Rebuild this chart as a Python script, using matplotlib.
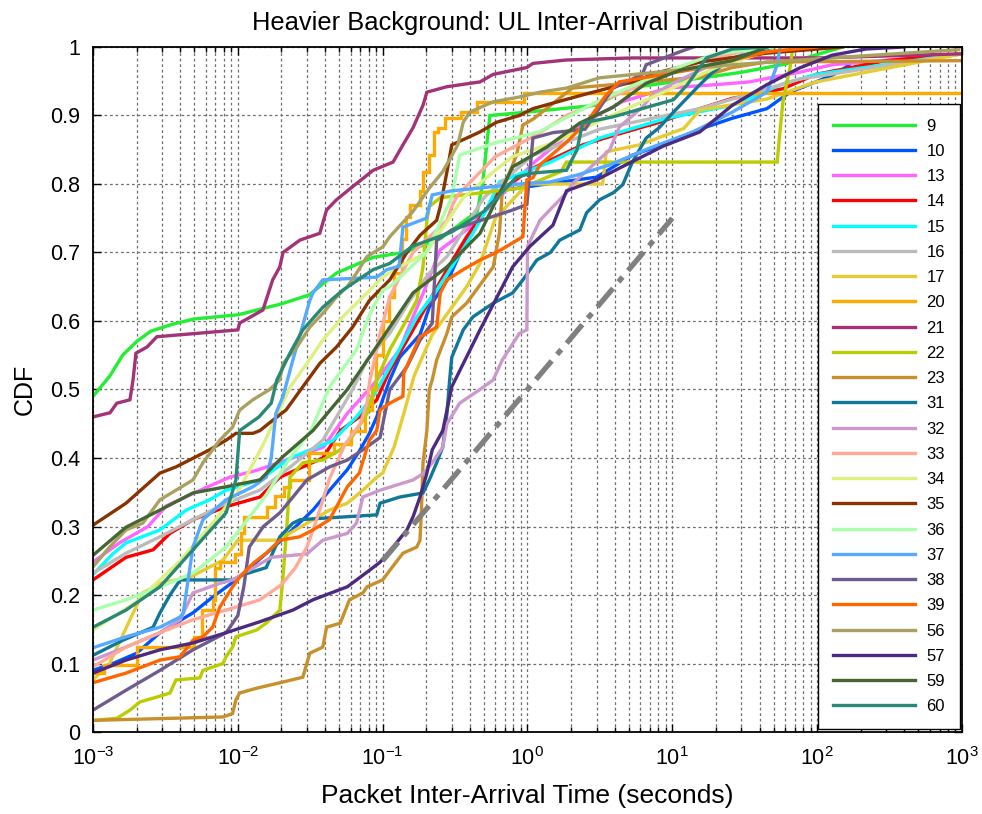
import matplotlib
matplotlib.use("Agg")
import matplotlib.pyplot as plt
from matplotlib.ticker import LogLocator, NullFormatter

plt.rcParams['font.family'] = ['Liberation Sans', 'DejaVu Sans']
plt.rcParams['mathtext.fontset'] = 'custom'
plt.rcParams['mathtext.rm'] = 'Liberation Sans'
plt.rcParams['mathtext.it'] = 'Liberation Sans:italic'
plt.rcParams['mathtext.bf'] = 'Liberation Sans:bold'

# ---- empirical CDFs of packet inter-arrival times (seconds), one per device ----
t_09 = [1e-3, 1.31e-3, 1.6e-3, 2e-3, 2.5e-3, 3.5e-3, 5e-3, 1e-2, 2e-2, 3.1e-2, 4.8e-2, 8.6e-2, 0.14, 0.25, 0.45, 0.49, 0.55, 1, 3, 5, 30, 60, 150]
p_09 = [0.49, 0.52, 0.55, 0.57, 0.585, 0.595, 0.603, 0.609, 0.625, 0.638, 0.67, 0.693, 0.70, 0.72, 0.76, 0.80, 0.90, 0.905, 0.915, 0.94, 0.963, 0.975, 1.0]

t_10 = [1e-3, 1.37e-3, 2e-3, 2.9e-3, 4.9e-3, 6.7e-3, 9.7e-3, 2e-2, 3.3e-2, 4.3e-2, 5.7e-2, 6.9e-2, 8.1e-2, 9.1e-2, 0.1, 0.112, 0.131, 0.181, 0.21, 0.29, 0.38, 0.47, 0.64, 1.36, 3, 5.3, 9.2, 15.5, 26, 45, 65, 98, 141, 166]
p_10 = [0.09, 0.10, 0.115, 0.145, 0.174, 0.197, 0.222, 0.28, 0.324, 0.353, 0.383, 0.41, 0.436, 0.46, 0.485, 0.514, 0.547, 0.58, 0.62, 0.665, 0.72, 0.75, 0.79, 0.80, 0.81, 0.842, 0.86, 0.88, 0.896, 0.91, 0.934, 0.949, 0.963, 0.974]

t_13 = [1e-3, 1.52e-3, 2.4e-3, 3.2e-3, 5.5e-3, 8.8e-3, 1.35e-2, 3.9e-2, 5.7e-2, 8.6e-2, 0.131, 0.162, 0.19, 0.25, 0.33, 0.40, 1.09, 2.3, 4.5, 9.2, 20, 34, 75, 127, 1000]
p_13 = [0.248, 0.276, 0.30, 0.33, 0.353, 0.372, 0.382, 0.416, 0.465, 0.507, 0.558, 0.606, 0.64, 0.704, 0.723, 0.737, 0.83, 0.886, 0.92, 0.94, 0.945, 0.949, 0.963, 0.974, 0.99]

t_14 = [1e-3, 1.69e-3, 2.6e-3, 3.4e-3, 4.9e-3, 8.3e-3, 1.42e-2, 1.95e-2, 3.86e-2, 5.1e-2, 6.9e-2, 9.1e-2, 0.112, 0.162, 0.278, 0.38, 0.64, 1.09, 2.4, 4.1, 8.1, 15.5, 26, 58, 98, 300, 1000]
p_14 = [0.222, 0.255, 0.266, 0.29, 0.31, 0.329, 0.343, 0.372, 0.40, 0.44, 0.46, 0.485, 0.528, 0.587, 0.675, 0.723, 0.79, 0.823, 0.857, 0.872, 0.89, 0.91, 0.925, 0.939, 0.96, 0.98, 0.99]

t_15 = [1e-3, 1.37e-3, 1.69e-3, 2.9e-3, 4.4e-3, 6.4e-3, 8.3e-3, 1.42e-2, 2.3e-2, 4.5e-2, 6.6e-2, 8.6e-2, 0.112, 0.138, 0.172, 0.236, 0.30, 0.42, 0.52, 0.64, 1.44, 3.15, 9.2, 26, 58, 98, 1000]
p_15 = [0.23, 0.26, 0.276, 0.295, 0.324, 0.339, 0.353, 0.368, 0.40, 0.425, 0.46, 0.49, 0.533, 0.568, 0.606, 0.645, 0.679, 0.728, 0.762, 0.803, 0.832, 0.867, 0.896, 0.915, 0.946, 0.96, 0.99]

t_16 = [1e-3, 1.69e-3, 2.9e-3, 4.9e-3, 8.3e-3, 1.42e-2, 2.4e-2, 3.86e-2, 6.2e-2, 7.8e-2, 0.112, 0.154, 0.21, 0.278, 0.5, 1.09, 3.15, 15.5, 26, 75, 1000]
p_16 = [0.232, 0.261, 0.285, 0.31, 0.334, 0.353, 0.39, 0.426, 0.50, 0.543, 0.582, 0.63, 0.67, 0.694, 0.78, 0.842, 0.88, 0.91, 0.924, 0.953, 0.99]

t_17 = [1e-3, 1.3e-3, 1.8e-3, 2.2e-3, 3e-3, 4.67e-3, 7.9e-3, 1e-2, 1.9e-2, 2.5e-2, 4.3e-2, 5.7e-2, 7.3e-2, 9.1e-2, 0.10, 0.12, 0.14, 0.165, 0.22, 0.38, 0.47, 0.6, 1.0, 3.3, 3.5, 5.9, 12, 15.5, 45, 98, 1000]
p_17 = [0.076, 0.10, 0.164, 0.203, 0.218, 0.226, 0.251, 0.28, 0.28, 0.295, 0.324, 0.334, 0.353, 0.372, 0.378, 0.416, 0.465, 0.52, 0.58, 0.65, 0.684, 0.75, 0.80, 0.80, 0.847, 0.857, 0.881, 0.908, 0.924, 0.949, 0.99]

# device 20 is drawn as a staircase (steps-post)
t_20 = [1e-3, 1.2e-3, 2e-3, 5e-3, 5.7e-3, 6.7e-3, 7e-3, 7.5e-3, 9.5e-3, 1.05e-2, 1.1e-2, 1.6e-2, 1.8e-2, 2.1e-2, 2.3e-2, 3.1e-2, 4.6e-2, 6e-2, 7.5e-2, 8.5e-2, 9e-2, 0.1, 0.11, 0.12, 0.135, 0.145, 0.155, 0.18, 0.19, 0.21, 0.225, 0.24, 0.27, 0.35, 0.45, 0.95, 1000]
p_20 = [0.086, 0.098, 0.124, 0.139, 0.178, 0.193, 0.24, 0.248, 0.26, 0.29, 0.314, 0.328, 0.345, 0.357, 0.368, 0.407, 0.42, 0.44, 0.47, 0.50, 0.55, 0.60, 0.635, 0.67, 0.72, 0.752, 0.77, 0.79, 0.818, 0.842, 0.876, 0.882, 0.896, 0.905, 0.92, 0.933, 0.933]

t_21 = [1e-3, 1.31e-3, 1.46e-3, 1.8e-3, 1.89e-3, 1.98e-3, 2.36e-3, 2.76e-3, 1e-2, 1.03e-2, 1.49e-2, 1.74e-2, 1.95e-2, 2.05e-2, 2.68e-2, 3.68e-2, 4.1e-2, 4.8e-2, 6.2e-2, 8.6e-2, 0.118, 0.138, 0.162, 0.19, 0.202, 0.278, 0.47, 0.58, 0.99, 1.09, 1.86, 5.3, 103, 1000]
p_21 = [0.46, 0.466, 0.48, 0.485, 0.514, 0.553, 0.562, 0.577, 0.587, 0.597, 0.616, 0.66, 0.679, 0.70, 0.718, 0.728, 0.762, 0.777, 0.796, 0.82, 0.832, 0.857, 0.882, 0.915, 0.934, 0.942, 0.949, 0.96, 0.97, 0.976, 0.981, 0.984, 0.984, 0.99]

t_22 = [1e-3, 1.46e-3, 1.8e-3, 2.11e-3, 2.76e-3, 3.4e-3, 3.74e-3, 5.47e-3, 5.74e-3, 7.9e-3, 8.3e-3, 9.2e-3, 9.7e-3, 1.35e-2, 1.57e-2, 1.95e-2, 2.05e-2, 2.18e-2, 2.29e-2, 2.81e-2, 3.86e-2, 5.1e-2, 5.9e-2, 6.6e-2, 7.8e-2, 9.1e-2, 0.112, 0.138, 0.172, 0.19, 0.202, 0.21, 0.25, 0.9, 1.7, 1.86, 53, 55, 58, 65, 68]
p_22 = [0.017, 0.02, 0.032, 0.044, 0.051, 0.057, 0.076, 0.079, 0.09, 0.10, 0.11, 0.124, 0.139, 0.149, 0.159, 0.178, 0.226, 0.30, 0.372, 0.393, 0.397, 0.412, 0.426, 0.44, 0.465, 0.514, 0.558, 0.592, 0.63, 0.679, 0.747, 0.767, 0.78, 0.794, 0.818, 0.832, 0.832, 0.87, 0.92, 0.97, 1.0]

t_23 = [1e-3, 7.9e-3, 9.2e-3, 9.7e-3, 1.03e-2, 1.35e-2, 2.05e-2, 2.81e-2, 3.14e-2, 3.86e-2, 4.1e-2, 5.1e-2, 5.9e-2, 7.3e-2, 7.8e-2, 0.1, 0.112, 0.138, 0.172, 0.181, 0.185, 0.19, 0.202, 0.21, 0.22, 0.236, 0.278, 0.30, 0.38, 0.58, 0.64, 0.67, 0.84, 0.93, 1.1, 2.04, 15.5, 26, 45, 1000]
p_23 = [0.017, 0.022, 0.027, 0.047, 0.057, 0.064, 0.073, 0.08, 0.115, 0.124, 0.153, 0.159, 0.193, 0.203, 0.212, 0.222, 0.236, 0.261, 0.27, 0.28, 0.32, 0.393, 0.44, 0.50, 0.514, 0.543, 0.582, 0.606, 0.626, 0.679, 0.728, 0.79, 0.842, 0.886, 0.895, 0.94, 0.956, 0.97, 0.978, 0.98]

t_31 = [1e-3, 1.61e-3, 2.6e-3, 2.9e-3, 3.4e-3, 4e-3, 9.2e-3, 1.1e-2, 1.57e-2, 1.95e-2, 2.4e-2, 2.7e-2, 9.1e-2, 0.096, 0.131, 0.19, 0.21, 0.236, 0.26, 0.278, 0.29, 0.30, 0.36, 0.42, 0.58, 0.79, 0.93, 1.16, 1.44, 1.67, 2.3, 2.56, 3.15, 3.9, 4.55, 5.3, 6.6, 8.1, 10.2, 12.7, 15.5, 19, 26, 50]
p_31 = [0.112, 0.134, 0.153, 0.174, 0.20, 0.222, 0.222, 0.23, 0.24, 0.285, 0.305, 0.31, 0.317, 0.334, 0.343, 0.349, 0.368, 0.393, 0.416, 0.465, 0.514, 0.547, 0.587, 0.606, 0.626, 0.641, 0.66, 0.689, 0.70, 0.718, 0.733, 0.758, 0.777, 0.787, 0.799, 0.832, 0.867, 0.882, 0.905, 0.926, 0.945, 0.963, 0.984, 1.0]

t_32 = [1e-3, 1.69e-3, 2.9e-3, 4e-3, 4.9e-3, 7.5e-3, 9.2e-3, 1.7e-2, 3e-2, 3.86e-2, 5.7e-2, 6.6e-2, 7.3e-2, 9.6e-2, 0.162, 0.19, 0.22, 0.26, 0.278, 0.34, 0.40, 0.47, 0.58, 0.67, 0.88, 0.99, 1.0, 1.22, 1.5, 1.86, 2.04, 3.7, 4.3, 6.2, 7.3, 9.7, 17, 30]
p_32 = [0.105, 0.124, 0.145, 0.164, 0.203, 0.217, 0.222, 0.255, 0.26, 0.28, 0.29, 0.305, 0.343, 0.353, 0.368, 0.377, 0.393, 0.416, 0.45, 0.48, 0.49, 0.50, 0.514, 0.543, 0.582, 0.587, 0.709, 0.747, 0.767, 0.787, 0.80, 0.85, 0.883, 0.912, 0.93, 0.945, 0.97, 1.0]

t_33 = [1e-3, 1.69e-3, 2.9e-3, 4.9e-3, 8.3e-3, 1.42e-2, 2e-2, 2.5e-2, 3e-2, 3.5e-2, 4.3e-2, 5.5e-2, 7e-2, 7.8e-2, 8.1e-2, 9.6e-2, 0.112, 0.131, 0.162, 0.278, 0.30, 0.33, 0.6, 1.16, 1.86, 4.1, 8.1, 15.5, 26, 40]
p_33 = [0.095, 0.124, 0.145, 0.164, 0.178, 0.193, 0.215, 0.24, 0.27, 0.31, 0.37, 0.42, 0.45, 0.48, 0.51, 0.582, 0.635, 0.664, 0.70, 0.747, 0.767, 0.784, 0.84, 0.872, 0.90, 0.93, 0.955, 0.978, 0.99, 1.0]

t_34 = [1e-3, 2e-3, 4e-3, 7e-3, 1e-2, 1.5e-2, 2.3e-2, 3e-2, 3.86e-2, 5.3e-2, 7.8e-2, 0.1, 0.131, 0.2, 0.36, 0.6, 0.79, 1.5, 3, 10, 20, 40, 80]
p_34 = [0.149, 0.19, 0.25, 0.31, 0.35, 0.42, 0.504, 0.538, 0.572, 0.606, 0.641, 0.664, 0.679, 0.70, 0.78, 0.82, 0.84, 0.86, 0.89, 0.94, 0.97, 0.99, 1.0]

t_35 = [1e-3, 1.69e-3, 2.9e-3, 3.74e-3, 6.4e-3, 8.3e-3, 9.7e-3, 1.27e-2, 1.42e-2, 1.74e-2, 2.15e-2, 2.81e-2, 3.68e-2, 4.8e-2, 6.2e-2, 8.1e-2, 0.112, 0.147, 0.181, 0.236, 0.25, 0.278, 0.30, 0.38, 0.47, 0.61, 0.88, 1.09, 2.4, 5.3, 8.1, 15.5, 45, 150]
p_35 = [0.302, 0.334, 0.378, 0.387, 0.412, 0.426, 0.436, 0.436, 0.44, 0.455, 0.47, 0.504, 0.538, 0.562, 0.591, 0.63, 0.66, 0.70, 0.725, 0.747, 0.767, 0.818, 0.857, 0.867, 0.876, 0.89, 0.90, 0.91, 0.93, 0.949, 0.963, 0.978, 0.991, 1.0]

t_36 = [1e-3, 1.69e-3, 2.9e-3, 4.9e-3, 8.3e-3, 1.5e-2, 2.3e-2, 3.2e-2, 4.3e-2, 6.6e-2, 7.8e-2, 8.6e-2, 0.1, 0.112, 0.2, 0.30, 0.34, 0.6, 1.2, 3, 8, 20, 50]
p_36 = [0.178, 0.193, 0.212, 0.232, 0.27, 0.34, 0.40, 0.44, 0.504, 0.558, 0.60, 0.62, 0.645, 0.65, 0.70, 0.78, 0.842, 0.86, 0.876, 0.92, 0.96, 0.99, 1.0]

t_37 = [1e-3, 1.69e-3, 2.9e-3, 4e-3, 4.2e-3, 4.9e-3, 5.74e-3, 8.3e-3, 1.27e-2, 1.57e-2, 1.7e-2, 1.83e-2, 2.05e-2, 2.4e-2, 3.14e-2, 3.3e-2, 3.86e-2, 9.1e-2, 0.107, 0.13, 0.138, 0.2, 0.22, 0.3, 0.88, 1.44, 2.2, 3.7, 6.9, 13.9, 26, 45, 53, 55.5]
p_37 = [0.123, 0.139, 0.153, 0.168, 0.174, 0.27, 0.31, 0.339, 0.358, 0.372, 0.40, 0.465, 0.49, 0.543, 0.63, 0.641, 0.66, 0.664, 0.675, 0.68, 0.737, 0.75, 0.784, 0.79, 0.80, 0.803, 0.813, 0.828, 0.852, 0.876, 0.905, 0.934, 0.974, 1.0]

t_38 = [1e-3, 1.69e-3, 2.9e-3, 4.9e-3, 8.3e-3, 1e-2, 1.1e-2, 1.2e-2, 1.5e-2, 1.95e-2, 2.4e-2, 3e-2, 4.3e-2, 5.7e-2, 7.3e-2, 9.6e-2, 0.112, 0.147, 0.181, 0.22, 0.236, 0.3, 0.79, 0.99, 1.09, 1.5, 2.5, 3.9, 6.2, 6.6, 11.3, 14]
p_38 = [0.032, 0.061, 0.09, 0.12, 0.145, 0.17, 0.212, 0.27, 0.30, 0.32, 0.343, 0.368, 0.387, 0.397, 0.412, 0.43, 0.50, 0.533, 0.572, 0.597, 0.718, 0.733, 0.762, 0.77, 0.867, 0.875, 0.88, 0.94, 0.96, 0.974, 0.993, 1.0]

t_39 = [1e-3, 1.69e-3, 2.9e-3, 4e-3, 4.9e-3, 5.74e-3, 6.7e-3, 7.5e-3, 8.3e-3, 9.2e-3, 1.03e-2, 1.27e-2, 1.57e-2, 1.95e-2, 2.68e-2, 3.3e-2, 4.3e-2, 5.7e-2, 6.9e-2, 8.1e-2, 9.1e-2, 0.096, 0.112, 0.138, 0.14, 0.181, 0.236, 0.25, 0.278, 0.36, 0.47, 0.61, 0.72, 0.93, 0.99, 1.09, 1.22, 1.86, 2.56, 3.5, 4.3, 15.5, 45, 100]
p_39 = [0.072, 0.086, 0.105, 0.11, 0.134, 0.139, 0.153, 0.182, 0.197, 0.212, 0.226, 0.246, 0.261, 0.28, 0.285, 0.295, 0.31, 0.358, 0.378, 0.426, 0.44, 0.47, 0.48, 0.49, 0.524, 0.577, 0.591, 0.641, 0.66, 0.675, 0.689, 0.70, 0.709, 0.723, 0.806, 0.809, 0.828, 0.861, 0.89, 0.93, 0.949, 0.969, 0.993, 1.0]

t_56 = [1e-3, 1.3e-3, 1.69e-3, 2.21e-3, 2.9e-3, 3.74e-3, 4.9e-3, 5.74e-3, 7.5e-3, 9.2e-3, 1.03e-2, 1.27e-2, 1.66e-2, 1.95e-2, 2.05e-2, 2.56e-2, 3.14e-2, 3.86e-2, 4.8e-2, 5.7e-2, 6.6e-2, 7.8e-2, 0.1, 0.112, 0.162, 0.21, 0.26, 0.33, 0.36, 0.40, 0.58, 0.88, 1.22, 1.86, 3.15, 26, 75, 950]
p_56 = [0.241, 0.27, 0.295, 0.305, 0.339, 0.353, 0.368, 0.393, 0.426, 0.445, 0.47, 0.485, 0.50, 0.514, 0.538, 0.562, 0.591, 0.611, 0.635, 0.65, 0.67, 0.694, 0.708, 0.723, 0.76, 0.794, 0.818, 0.857, 0.89, 0.905, 0.92, 0.927, 0.934, 0.94, 0.955, 0.974, 0.981, 0.996]

t_57 = [1e-3, 1.69e-3, 2.9e-3, 4.9e-3, 8.3e-3, 1.42e-2, 2.4e-2, 3.3e-2, 5.7e-2, 8.1e-2, 9.6e-2, 0.118, 0.147, 0.162, 0.181, 0.202, 0.22, 0.26, 0.30, 0.47, 0.79, 1.04, 1.5, 1.86, 3.0, 5.0, 8.6, 15.5, 26, 45, 75, 127, 217, 400]
p_57 = [0.086, 0.105, 0.12, 0.13, 0.145, 0.161, 0.178, 0.193, 0.212, 0.236, 0.248, 0.27, 0.295, 0.314, 0.343, 0.378, 0.412, 0.44, 0.504, 0.587, 0.679, 0.709, 0.74, 0.79, 0.806, 0.83, 0.855, 0.876, 0.915, 0.945, 0.969, 0.988, 0.997, 1.0]

t_59 = [1e-3, 1.69e-3, 2.9e-3, 4.9e-3, 8.3e-3, 1.42e-2, 2e-2, 3.3e-2, 5.7e-2, 9.6e-2, 0.162, 0.278, 0.47, 0.79, 1.36, 2.3, 3.9, 6.6, 11.3, 26, 45]
p_59 = [0.258, 0.299, 0.324, 0.349, 0.358, 0.368, 0.40, 0.44, 0.50, 0.57, 0.641, 0.679, 0.728, 0.825, 0.854, 0.889, 0.912, 0.947, 0.966, 0.98, 1.0]

t_60 = [1e-3, 1.69e-3, 2.9e-3, 4.9e-3, 8.3e-3, 9.7e-3, 1.03e-2, 1.4e-2, 1.7e-2, 1.86e-2, 2.29e-2, 2.81e-2, 3.86e-2, 5.3e-2, 8.6e-2, 0.112, 0.16, 0.3, 0.5, 0.84, 1.09, 1.86, 2.2, 2.4, 3.9, 10.2, 12.7, 17.2, 26, 45]
p_60 = [0.153, 0.178, 0.212, 0.266, 0.32, 0.368, 0.44, 0.46, 0.48, 0.514, 0.553, 0.587, 0.62, 0.645, 0.675, 0.684, 0.709, 0.73, 0.76, 0.81, 0.816, 0.82, 0.85, 0.889, 0.898, 0.923, 0.945, 0.984, 0.997, 1.0]

device_ids = ['9', '10', '13', '14', '15', '16', '17', '20', '21', '22', '23', '31',
              '32', '33', '34', '35', '36', '37', '38', '39', '56', '57', '59', '60']
line_colors = ['#22EE33', '#0055FF', '#FF66FF', '#FF0000', '#00FFFF', '#BBBBBB',
               '#E6CC33', '#FFAA00', '#A33378', '#BBCC00', '#C8902A', '#117799',
               '#CC99CC', '#FFAA99', '#DDF080', '#883300', '#AAFFAA', '#55AAFF',
               '#705C8C', '#FF6600', '#AAA060', '#4B2A80', '#446633', '#2A8877']
series = [(t_09, p_09), (t_10, p_10), (t_13, p_13), (t_14, p_14), (t_15, p_15),
          (t_16, p_16), (t_17, p_17), (t_20, p_20), (t_21, p_21), (t_22, p_22),
          (t_23, p_23), (t_31, p_31), (t_32, p_32), (t_33, p_33), (t_34, p_34),
          (t_35, p_35), (t_36, p_36), (t_37, p_37), (t_38, p_38), (t_39, p_39),
          (t_56, p_56), (t_57, p_57), (t_59, p_59), (t_60, p_60)]
step_devices = ['20']

# reference slope: 0.25 per decade between 0.1 s and 10 s
ref_t = [0.1, 10]
ref_p = [0.25, 0.75]

y_ticks = [0, 0.1, 0.2, 0.3, 0.4, 0.5, 0.6, 0.7, 0.8, 0.9, 1]
y_tick_labels = ['0', '0.1', '0.2', '0.3', '0.4', '0.5', '0.6', '0.7', '0.8', '0.9', '1']

fig = plt.figure(figsize=(9.82, 8.14), dpi=100)
ax = fig.add_axes([0.0947, 0.1007, 0.8849, 0.8416])

for dev, col, (t, p) in zip(device_ids, line_colors, series):
    ds = 'steps-post' if dev in step_devices else 'default'
    ax.plot(t, p, color=col, lw=2.4, label=dev, drawstyle=ds, solid_joinstyle='miter')

ax.plot(ref_t, ref_p, color='#808080', lw=3.8,
        linestyle=(0, (4.6, 1.6, 1.2, 1.6)), solid_capstyle='butt', dash_capstyle='butt')

ax.set_xscale('log')
ax.set_xlim(1e-3, 1e3)
ax.set_ylim(0, 1)
ax.set_yticks(y_ticks)
ax.set_yticklabels(y_tick_labels)
ax.xaxis.set_major_locator(LogLocator(base=10, numticks=10))
ax.xaxis.set_minor_locator(LogLocator(base=10, subs=range(2, 10), numticks=100))
ax.xaxis.set_minor_formatter(NullFormatter())

grid_kw = dict(color='#6e6e6e', linestyle=(0, (2.2, 2.2)), linewidth=0.9)
ax.grid(True, which='major', axis='both', **grid_kw)
ax.grid(True, which='minor', axis='x', **grid_kw)

ax.tick_params(which='both', direction='in', top=True, right=True, labelsize=15.5,
               width=1.0, color='black')
ax.tick_params(which='major', length=6)
ax.tick_params(which='minor', length=3.5)
ax.tick_params(axis='x', pad=11)
ax.tick_params(axis='y', pad=9)
for s in ax.spines.values():
    s.set_linewidth(1.3)

ax.set_title('Heavier Background: UL Inter-Arrival Distribution', fontsize=18.4, pad=12)
ax.set_xlabel('Packet Inter-Arrival Time (seconds)', fontsize=19, labelpad=10)
ax.set_ylabel('CDF', fontsize=18, labelpad=10)

leg = ax.legend(loc='lower right', bbox_to_anchor=(0.998, 0.004), fontsize=12,
                frameon=True, fancybox=False, framealpha=1, edgecolor='black',
                handlelength=4.9, handletextpad=0.7, labelspacing=0.615,
                borderpad=0.9, borderaxespad=0)
leg.get_frame().set_linewidth(1.0)
for h in leg.get_lines():
    h.set_linewidth(2.4)

fig.savefig('out.png', dpi=100)
